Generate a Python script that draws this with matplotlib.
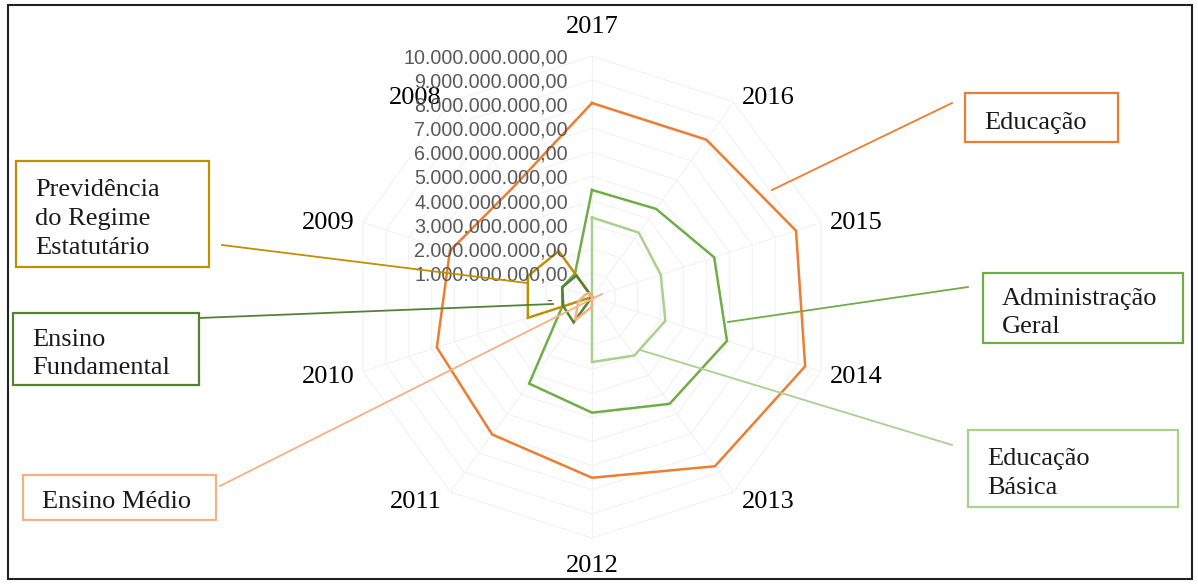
import numpy as np
import matplotlib
matplotlib.use("Agg")
import matplotlib.pyplot as plt
from matplotlib.patches import Rectangle
from matplotlib.lines import Line2D

W, H = 1198, 584

# ── Dados (R$ bilhões) ───────────────────────────────────────────────────────
anos = ["2017", "2016", "2015", "2014", "2013", "2012", "2011", "2010", "2009", "2008"]

educacao        = [8.05, 8.07, 8.90, 9.30, 8.68, 7.50, 7.05, 6.77, 6.20, 5.60]
admin_geral     = [4.44, 4.52, 5.33, 5.89, 5.48, 4.80, 4.44, 1.30, 1.30, 1.20]
educ_basica     = [3.30, 3.30, 3.00, 3.20, 3.00, 2.70, 0.00, 0.00, 0.00, 0.00]
previdencia     = [0.00, 0.00, 0.00, 0.00, 0.00, 0.00, 0.00, 2.80, 2.80, 2.35]
ens_fundamental = [0.00, 0.00, 0.00, 0.00, 0.00, 0.00, 1.30, 1.25, 1.30, 1.10]
ens_medio       = [0.00, 0.00, 0.00, 0.00, 0.00, 0.40, 1.20, 0.60, 0.30, 0.20]

ticks = np.arange(0, 11) * 1e9


def fmt_br(v):
    if v == 0:
        return "-"
    s = f"{v:,.2f}"
    return s.replace(",", "#").replace(".", ",").replace("#", ".")


tick_labels = [fmt_br(t) for t in ticks]

series = [
    ("Educação",            educacao,        "#ED7D31"),
    ("Administração Geral", admin_geral,     "#70AD47"),
    ("Educação Básica",     educ_basica,     "#A9D18E"),
    ("Previdência",         previdencia,     "#BF9000"),
    ("Ensino Fundamental",  ens_fundamental, "#548235"),
    ("Ensino Médio",        ens_medio,       "#F4B183"),
]

# ── Figura ───────────────────────────────────────────────────────────────────
fig = plt.figure(figsize=(W / 100, H / 100), dpi=100)
cx, cy, R = 592, 297, 241
ax = fig.add_axes([(cx - R) / W, 1 - (cy + R) / H, 2 * R / W, 2 * R / H],
                  projection="polar")
ax.set_theta_offset(np.pi / 2)
ax.set_theta_direction(-1)
ax.set_ylim(0, 10e9)
ax.axis("off")

theta = np.linspace(0, 2 * np.pi, len(anos), endpoint=False)
theta_c = np.append(theta, theta[0])

# grade poligonal bem clara
for t in ticks[1:]:
    ax.plot(theta_c, [t] * len(theta_c), color="#F2F2F2", lw=0.8, zorder=1)
for th in theta:
    ax.plot([th, th], [0, ticks[-1]], color="#F2F2F2", lw=0.8, zorder=1)

for nome, vals, cor in series:
    v = np.array(vals) * 1e9
    ax.plot(theta_c, np.append(v, v[0]), color=cor, lw=1.8,
            solid_joinstyle="miter", zorder=3)

# rótulos do eixo radial
for t, lab in zip(ticks, tick_labels):
    if t == 0:
        ax.annotate(lab, xy=(0, t), xytext=(-43, -4), textcoords="offset pixels",
                    ha="center", va="center", fontsize=13, color="#595959",
                    family="Liberation Sans", zorder=4)
    else:
        ax.annotate(lab, xy=(0, t), xytext=(-24, -2), textcoords="offset pixels",
                    ha="right", va="center", fontsize=14.2, color="#595959",
                    family="Liberation Sans", zorder=4)

# rótulos das categorias (fora do anel externo, estilo Excel)
for th, ano in zip(theta, anos):
    s, c = np.sin(th), np.cos(th)
    if abs(s) < 0.1:
        ox, oy = 0, 27 * c + (2 if c > 0 else -1)
    else:
        ox, oy = 35 * np.sign(s), 9 * c - 3
    ax.annotate(ano, xy=(th, ticks[-1]), xytext=(ox, oy),
                textcoords="offset pixels", ha="center", va="center",
                fontsize=19, family="Liberation Serif", color="black",
                annotation_clip=False)


# ── Caixas de legenda com linhas de chamada ──────────────────────────────────
def px(x, y):
    return x / W, 1 - y / H


caixas = [
    ("Educação",                            "#ED7D31", (965, 93, 1118, 142),  (952, 103), (772, 190)),
    ("Administração\nGeral",                "#70AD47", (983, 273, 1183, 343), (968, 287), (728, 322)),
    ("Educação\nBásica",                    "#A9D18E", (968, 430, 1178, 507), (952, 445), (640, 350)),
    ("Previdência\ndo Regime\nEstatutário", "#BF9000", (16, 161, 209, 267),   (222, 245), (527, 283)),
    ("Ensino\nFundamental",                 "#548235", (13, 313, 199, 385),   (199, 318), (553, 304)),
    ("Ensino Médio",                        "#F4B183", (23, 475, 216, 520),   (220, 486), (602, 294)),
]

for texto, cor, (x0, y0, x1, y1), p_ini, p_fim in caixas:
    fx0, fy1 = px(x0, y1)
    rect = Rectangle((fx0, fy1), (x1 - x0) / W, (y1 - y0) / H,
                     transform=fig.transFigure, facecolor="white",
                     edgecolor=cor, lw=1.6, zorder=5)
    fig.patches.append(rect)
    tx, ty = px(x0 + 19, (y0 + y1) / 2 + 5)
    fig.text(tx, ty, texto, ha="left", va="center", fontsize=19,
             family="Liberation Serif", color="#1a1a1a", linespacing=1.4,
             zorder=6)
    (ax0, ay0), (ax1, ay1) = px(*p_ini), px(*p_fim)
    fig.lines.append(Line2D([ax0, ax1], [ay0, ay1], transform=fig.transFigure,
                            color=cor, lw=1.3, zorder=5))

# moldura externa
fig.patches.append(Rectangle(px(8, 579), (1192 - 8) / W, (579 - 5) / H,
                             transform=fig.transFigure, fill=False,
                             edgecolor="#222222", lw=1.5))

plt.savefig("out.png", dpi=100)
